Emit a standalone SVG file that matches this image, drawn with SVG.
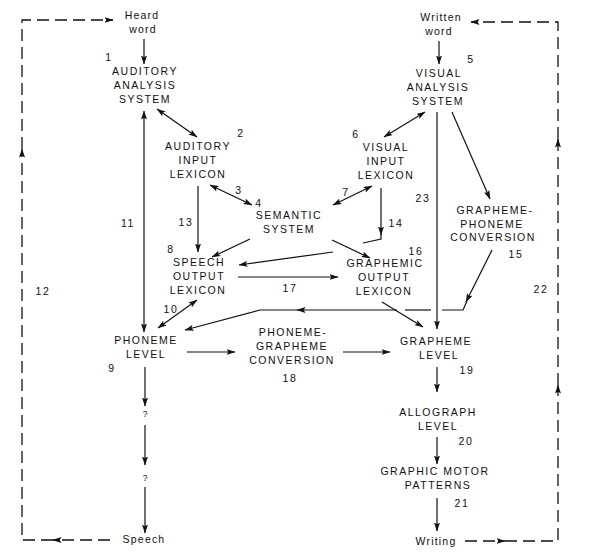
<svg xmlns="http://www.w3.org/2000/svg" width="595" height="560" viewBox="0 0 595 560">
<style>
.t{font-family:"Liberation Sans",Arial,sans-serif;font-size:10.5px;letter-spacing:1.5px;text-anchor:middle;fill:#111}
.m{font-family:"Liberation Sans",Arial,sans-serif;font-size:10.5px;letter-spacing:1.2px;text-anchor:middle;fill:#111}
.n{font-family:"Liberation Sans",Arial,sans-serif;font-size:10.5px;letter-spacing:1.6px;text-anchor:middle;fill:#111}
.q{font-family:"Liberation Sans",Arial,sans-serif;font-size:8.5px;text-anchor:middle;fill:#111}
.e{fill:none;stroke:#111;stroke-width:1.2}
.a{marker-end:url(#ah)}
.b{marker-end:url(#ah);marker-start:url(#ah)}
.d{fill:none;stroke:#111;stroke-width:1.3;stroke-dasharray:12 6}
</style>
<defs>
<marker id="ah" viewBox="0 0 9 6" refX="8.5" refY="3" markerWidth="9" markerHeight="6" markerUnits="userSpaceOnUse" orient="auto-start-reverse">
<path d="M0,0 L9,3 L0,6 L1.8,3 z" fill="#111"/>
</marker>
</defs>
<rect width="595" height="560" fill="#fff"/>

<g id="connectors">
<!-- dashed loop 12 -->
<path class="d a" d="M110,540 H53"/>
<path class="d a" d="M53,540 H22 V149"/>
<path class="d a" d="M22,149 V20 H113"/>
<!-- dashed loop 22 -->
<path class="d a" d="M465,541 H505"/>
<path class="d a" d="M505,541 H558 V385"/>
<path class="d a" d="M558,385 V139"/>
<path class="d a" d="M558,139 V22 H471"/>

<path class="e a" d="M144,39 V64"/>
<path class="e a" d="M439,41 V64"/>
<path class="e b" d="M157,109 L197,137"/>
<path class="e b" d="M144,111 V332"/>
<path class="e b" d="M425,112 L384,137"/>
<path class="e a" d="M437,112 V329"/>
<path class="e a" d="M452,112 L490,199"/>
<path class="e b" d="M210,185 L252,205"/>
<path class="e b" d="M372,186 L333,205"/>
<path class="e a" d="M198,186 V252"/>
<path class="e a" d="M381,188 V235"/>
<path class="e" d="M381,234 V239 L363,243"/>
<path class="e a" d="M333,252 L239,265"/>
<path class="e a" d="M250,239 L212,257"/>
<path class="e a" d="M332,240 L370,258"/>
<path class="e a" d="M238,277 H338"/>
<path class="e b" d="M197,300 L158,328"/>
<path class="e a" d="M382,302 L423,327"/>
<path class="e a" d="M492,250 L466,302"/>
<path class="e" d="M467,301 L463,310 H442"/>
<path class="e" d="M431,310 H405"/>
<path class="e a" d="M397,310 H297"/>
<path class="e a" d="M298,310 H260 L185,330"/>
<path class="e a" d="M187,352 H235"/>
<path class="e a" d="M343,352 H390"/>
<path class="e a" d="M437,367 V392"/>
<path class="e a" d="M437,437 V464"/>
<path class="e a" d="M437,498 V531"/>
<path class="e a" d="M145,367 V406"/>
<path class="e a" d="M145,425 V465"/>
<path class="e a" d="M145,487 V533"/>
</g>

<g id="heard-word"><text class="m" x="142" y="19">Heard</text><text class="m" x="143" y="33">word</text></g>
<g id="written-word"><text class="m" x="441" y="21">Written</text><text class="m" x="439" y="35">word</text></g>
<g id="auditory-analysis"><text class="n" x="109" y="61">1</text><text class="t" x="145" y="75">AUDITORY</text><text class="t" x="145" y="89">ANALYSIS</text><text class="t" x="145" y="103">SYSTEM</text></g>
<g id="visual-analysis"><text class="n" x="471" y="63">5</text><text class="t" x="439" y="77">VISUAL</text><text class="t" x="438" y="91">ANALYSIS</text><text class="t" x="438" y="105">SYSTEM</text></g>
<g id="auditory-input"><text class="n" x="241" y="137">2</text><text class="t" x="198" y="150">AUDITORY</text><text class="t" x="198" y="164">INPUT</text><text class="t" x="198" y="178">LEXICON</text></g>
<g id="visual-input"><text class="n" x="356" y="138">6</text><text class="t" x="386" y="151">VISUAL</text><text class="t" x="386" y="165">INPUT</text><text class="t" x="386" y="179">LEXICON</text></g>
<g id="semantic"><text class="n" x="259" y="207">4</text><text class="t" x="289" y="219">SEMANTIC</text><text class="t" x="289" y="233">SYSTEM</text></g>
<g id="speech-output"><text class="n" x="171" y="253">8</text><text class="t" x="199" y="266">SPEECH</text><text class="t" x="199" y="280">OUTPUT</text><text class="t" x="198" y="294">LEXICON</text></g>
<g id="graphemic-output"><text class="n" x="416" y="255">16</text><text class="t" x="385" y="267">GRAPHEMIC</text><text class="t" x="384" y="281">OUTPUT</text><text class="t" x="384" y="295">LEXICON</text></g>
<g id="gp-conversion"><text class="t" x="495" y="214">GRAPHEME-</text><text class="t" x="492" y="228">PHONEME</text><text class="t" x="493" y="241">CONVERSION</text><text class="n" x="516" y="258">15</text></g>
<g id="phoneme-level"><text class="t" x="146" y="344">PHONEME</text><text class="t" x="146" y="358">LEVEL</text><text class="n" x="112" y="372">9</text></g>
<g id="pg-conversion"><text class="t" x="293" y="336">PHONEME-</text><text class="t" x="292" y="350">GRAPHEME</text><text class="t" x="292" y="364">CONVERSION</text><text class="n" x="290" y="382">18</text></g>
<g id="grapheme-level"><text class="t" x="436" y="345">GRAPHEME</text><text class="t" x="439" y="359">LEVEL</text><text class="n" x="467" y="374">19</text></g>
<g id="allograph-level"><text class="t" x="438" y="416">ALLOGRAPH</text><text class="t" x="438" y="430">LEVEL</text><text class="n" x="466" y="445">20</text></g>
<g id="graphic-motor"><text class="t" x="435" y="475">GRAPHIC MOTOR</text><text class="t" x="438" y="489">PATTERNS</text><text class="n" x="462" y="507">21</text></g>
<g id="writing"><text class="m" x="436" y="545">Writing</text></g>
<g id="speech"><text class="m" x="144" y="543">Speech</text></g>
<g id="q1"><text class="q" x="145" y="417">?</text></g>
<g id="q2"><text class="q" x="145" y="481">?</text></g>
<g id="labels">
<text class="n" x="43" y="295">12</text>
<text class="n" x="541" y="293">22</text>
<text class="n" x="128" y="227">11</text>
<text class="n" x="186" y="226">13</text>
<text class="n" x="239" y="194">3</text>
<text class="n" x="346" y="196">7</text>
<text class="n" x="396" y="227">14</text>
<text class="n" x="423" y="202">23</text>
<text class="n" x="290" y="292">17</text>
<text class="n" x="171" y="313">10</text>
</g>
</svg>
